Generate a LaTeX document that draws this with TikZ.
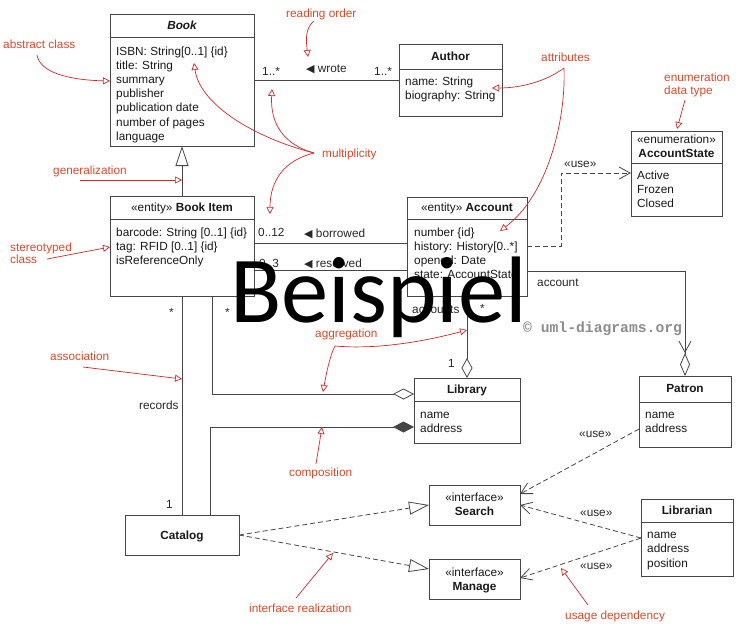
\documentclass[tikz,border=0pt]{standalone}
\usepackage{fontspec}
\setmainfont{Liberation Sans}
\newfontfamily\djv{DejaVu Sans}
\newfontfamily\wmfont{Carlito}
\newfontfamily\lmono{Liberation Mono}
\usetikzlibrary{arrows.meta}
\definecolor{annot}{RGB}{222,72,40}
\definecolor{annline}{RGB}{212,40,40}
\definecolor{umlline}{RGB}{70,70,70}
\newcommand\fsz{\fontsize{11.8}{14.2}\selectfont}
\newcommand\ltri{{\djv\fontsize{11}{11}\selectfont\char"25C0}}
\begin{document}
\begin{tikzpicture}[x=1pt,y=-1pt,
 cls/.style={draw=umlline,line width=0.8pt,fill=white,inner sep=0pt,outer sep=0pt,anchor=north west},
 sepline/.style={draw=umlline,line width=0.8pt},
 txt/.style={font=\fsz,inner sep=0pt,anchor=base west,text=black!90},
 ctxt/.style={font=\fsz,inner sep=0pt,anchor=base,text=black!90},
 lbl/.style={font=\fsz,inner sep=0pt,anchor=base west,text=black!85},
 note/.style={font=\fsz,inner sep=0pt,anchor=base west,text=annot},
 conn/.style={draw=umlline,line width=0.8pt},
 dep/.style={conn,dash pattern=on 5pt off 3pt},
 nline/.style={draw=annline,line width=0.7pt,-{Triangle[open,length=7pt,width=7pt]}},
 depend/.style={dep,-{Straight Barb[length=11pt,width=12pt]}},
 realize/.style={dep,-{Triangle[open,length=20pt,width=13pt]},fill=white},
]
\useasboundingbox (0,0) rectangle (736,625);

% ---------- classes ----------
\node[cls,minimum width=144pt,minimum height=132pt] (book) at (110,14) {};
\draw[sepline] (book.west |- 0,37.7) -- (book.east |- 0,37.7);
\node[ctxt,font=\fsz\bfseries\itshape] (bookT) at (182,29.8) {Book};
\foreach \t [count=\i] in {{ISBN: String[0..1] \{id\}},{title: String},summary,publisher,{publication date},{number of pages},language}
  \node[txt] (bookA\i) at (116,{55+14.2*(\i-1)}) {\t};

\node[cls,minimum width=144pt,minimum height=100pt] (bookitem) at (110,196) {};
\draw[sepline] (bookitem.west |- 0,219) -- (bookitem.east |- 0,219);
\node[ctxt] (bookitemT) at (182,211.5) {«entity» \textbf{Book Item}};
\foreach \t [count=\i] in {{barcode: String [0..1] \{id\}},{tag: RFID [0..1] \{id\}},isReferenceOnly}
  \node[txt] (bookitemA\i) at (116,{236+14.2*(\i-1)}) {\t};

\node[cls,minimum width=103pt,minimum height=72pt] (author) at (399,44) {};
\draw[sepline] (author.west |- 0,69) -- (author.east |- 0,69);
\node[ctxt,font=\fsz\bfseries] (authorT) at (450.5,60.3) {Author};
\node[txt] (authorA1) at (405,85.3) {name: String};
\node[txt] (authorA2) at (405,99.5) {biography: String};

\node[cls,minimum width=91pt,minimum height=85pt] (accstate) at (631,131) {};
\draw[sepline] (accstate.west |- 0,163) -- (accstate.east |- 0,163);
\node[ctxt] (accstateS) at (676.5,143.5) {«enumeration»};
\node[ctxt,font=\fsz\bfseries] (accstateT) at (676.5,157.5) {AccountState};
\foreach \t [count=\i] in {Active,Frozen,Closed}
  \node[txt] (accstateA\i) at (637,{179.3+14.2*(\i-1)}) {\t};

\node[cls,minimum width=120pt,minimum height=99pt] (account) at (407,197) {};
\draw[sepline] (account.west |- 0,219) -- (account.east |- 0,219);
\node[ctxt] (accountT) at (467,211.5) {«entity» \textbf{Account}};
\foreach \t [count=\i] in {{number \{id\}},{history: History[0..*]},{opened: Date},{state: AccountState}}
  \node[txt] (accountA\i) at (414,{236+14.2*(\i-1)}) {\t};

\node[cls,minimum width=106pt,minimum height=65pt] (library) at (414,378) {};
\draw[sepline] (library.west |- 0,401) -- (library.east |- 0,401);
\node[ctxt,font=\fsz\bfseries] (libraryT) at (467,393.3) {Library};
\node[txt] (libraryA1) at (420,418.3) {name};
\node[txt] (libraryA2) at (420,432.5) {address};

\node[cls,minimum width=92pt,minimum height=71pt] (patron) at (639,376) {};
\draw[sepline] (patron.west |- 0,402) -- (patron.east |- 0,402);
\node[ctxt,font=\fsz\bfseries] (patronT) at (685,392.5) {Patron};
\node[txt] (patronA1) at (645,418.5) {name};
\node[txt] (patronA2) at (645,432.7) {address};

\node[cls,minimum width=92pt,minimum height=77pt] (librarian) at (641,499) {};
\draw[sepline] (librarian.west |- 0,522) -- (librarian.east |- 0,522);
\node[ctxt,font=\fsz\bfseries] (librarianT) at (687,514.2) {Librarian};
\foreach \t [count=\i] in {name,address,position}
  \node[txt] (librarianA\i) at (647,{538.6+14.2*(\i-1)}) {\t};

\node[cls,minimum width=114pt,minimum height=40pt] (catalog) at (125,515) {};
\node[ctxt,font=\fsz\bfseries] (catalogT) at (182,539.2) {Catalog};

\node[cls,minimum width=91pt,minimum height=40pt] (search) at (429,485) {};
\node[ctxt] (searchS) at (474.5,501.9) {«interface»};
\node[ctxt,font=\fsz\bfseries] (searchT) at (474.5,515.9) {Search};

\node[cls,minimum width=91pt,minimum height=40pt] (manage) at (429,559) {};
\node[ctxt] (manageS) at (474.5,576.2) {«interface»};
\node[ctxt,font=\fsz\bfseries] (manageT) at (474.5,590.2) {Manage};

% ---------- connectors ----------
\draw[conn,-{Triangle[open,length=20pt,width=13pt]}] (bookitem.north) -- (book.south);
\draw[conn] (book.east |- 0,80) -- (author.west |- 0,80);
\draw[conn] (bookitem.east |- 0,243) -- (account.west |- 0,243);
\draw[conn] (bookitem.east |- 0,270) -- (account.west |- 0,270);
\draw[conn,-{Straight Barb[length=11pt,width=12pt] Diamond[open,length=23pt,width=10pt]}]
  (account.east |- 0,271) -- (patron.north |- 0,271) -- (patron.north);
\draw[conn,-{Diamond[open,length=20pt,width=11pt]}] (account.south) -- (library.north);
\draw[conn,-{Diamond[open,length=21pt,width=11pt]}] (bookitem.south -| 212,0) |- (library.west |- 0,394);
\draw[conn,-{Diamond[length=21pt,width=11pt]}] (catalog.north -| 210,0) |- (library.west |- 0,427);
\draw[conn] (bookitem.south) -- (catalog.north);
\draw[realize] (catalog.east) -- (search.west |- 0,505);
\draw[realize] (catalog.east) -- (manage.west |- 0,569);
\draw[depend] (patron.west |- 0,429) -- (search.east |- 0,494);
\draw[depend] (librarian.west |- 0,538) -- (search.east |- 0,505);
\draw[depend] (librarian.west |- 0,538) -- (manage.east |- 0,578);
\draw[depend] (account.east |- 0,246) -- (561,246) -- (561,173) -- (accstate.west |- 0,173);

% ---------- connector labels ----------
\node[lbl] (m1) at (262,75) {1..*};
\node[lbl] (wrote) at (306,72.3) {\ltri\ wrote};
\node[lbl] (m2) at (374,75) {1..*};
\node[lbl] (m3) at (258,236) {0..12};
\node[lbl] (borrowed) at (304,237.3) {\ltri\ borrowed};
\node[lbl] (m4) at (259,267.3) {0..3};
\node[lbl] (reserved) at (304,267.3) {\ltri\ reserved};
\node[lbl] (accountL) at (537,286.2) {account};
\node[lbl] (accountsL) at (412,313.2) {accounts};
\node[lbl] (m5) at (480,312) {*};
\node[lbl] (m6) at (448,367.2) {1};
\node[lbl] (m7) at (169,316) {*};
\node[lbl] (m8) at (225,316) {*};
\node[lbl] (records) at (139,409.2) {records};
\node[lbl] (m9) at (166,508.2) {1};
\node[lbl] (use1) at (564,167.2) {«use»};
\node[lbl] (use2) at (579,437.2) {«use»};
\node[lbl] (use3) at (580,516.2) {«use»};
\node[lbl] (use4) at (580,569.2) {«use»};

% ---------- annotations ----------
\node[note] (nAbstract) at (3,48) {abstract class};
\draw[nline] (37,55) .. controls (40,73) and (70,80) .. (110,81);
\node[note] (nReading) at (286,17) {reading order};
\draw[nline] (314,21) .. controls (305,28) and (306,40) .. (308,57);
\node[note] (nMult) at (322,157) {multiplicity};
\coordinate (mult) at (314,153);
\draw[nline] (mult) .. controls (255,138) and (200,105) .. (194,63);
\draw[nline] (mult) .. controls (285,145) and (270,125) .. (272,89);
\draw[nline] (mult) .. controls (285,160) and (270,180) .. (270,214);
\node[note] (nGen) at (53,174.2) {generalization};
\draw[nline] (80,180) -- (182,180);
\node[note] (nStereo1) at (10,251) {stereotyped};
\node[note] (nStereo2) at (10,263.5) {class};
\draw[nline] (47,259) -- (110,247);
\node[note] (nAssoc) at (50,360.2) {association};
\draw[nline] (83,367) -- (182,379);
\node[note] (nAggr) at (315,337.5) {aggregation};
\coordinate (aggr) at (335,346);
\draw[nline] (aggr) .. controls (330,355) and (326,375) .. (323,392);
\draw[nline] (aggr) .. controls (380,350) and (430,340) .. (467,330);
\node[note] (nComp) at (289,476.5) {composition};
\draw[nline] (316,464) -- (322,427);
\node[note] (nReal) at (249,612.5) {interface realization};
\draw[nline] (296,598) -- (333,553);
\node[note] (nAttr) at (541,61.2) {attributes};
\coordinate (attr) at (564,68);
\draw[nline] (attr) .. controls (545,82) and (520,88) .. (492,88);
\draw[nline] (attr) .. controls (566,120) and (548,195) .. (500,231);
\node[note] (nEnum1) at (664,81.2) {enumeration};
\node[note] (nEnum2) at (664,94.2) {data type};
\draw[nline] (685,100) -- (677,129);
\node[note] (nUsage) at (565,619.2) {usage dependency};
\draw[nline] (588,605) -- (561,568);

% ---------- watermarks ----------
\node[inner sep=0pt,anchor=base west,text=gray!90,font=\lmono\bfseries\fontsize{14.7}{14.7}\selectfont] (copy) at (523,332) {© uml-diagrams.org};
\node[inner sep=0pt,anchor=base west,text=black,font=\wmfont\fontsize{94.5}{94.5}\selectfont] (wm) at (230,322) {Beispiel};
\end{tikzpicture}
\end{document}
